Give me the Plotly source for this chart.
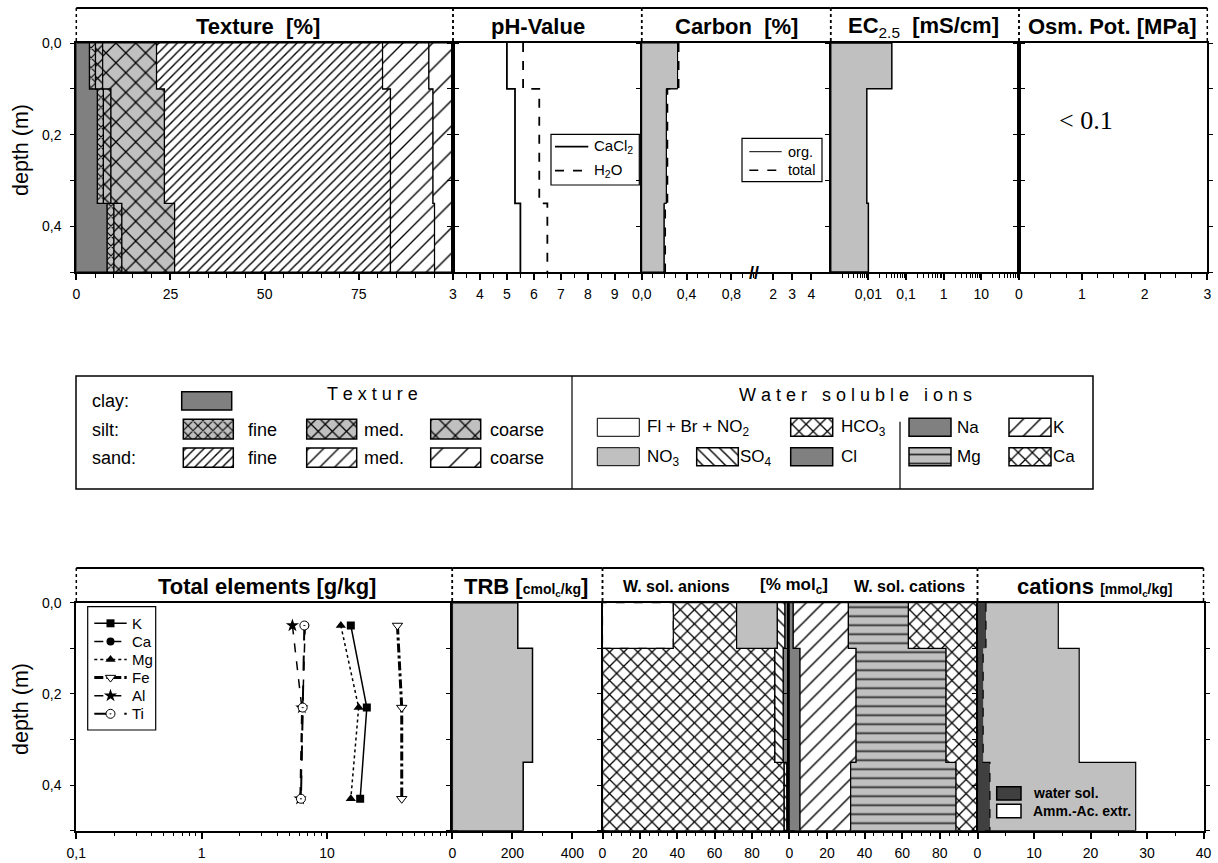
import plotly.graph_objects as go

W, H = 1218, 863
FONT = "Liberation Sans, Arial, Helvetica, sans-serif"
SERIF = "Liberation Serif, Times New Roman, serif"
GRAY = "#c0c0c0"
DGRAY = "#808080"
XDGRAY = "#404040"

# ---------------- profile data (three horizons) ----------------
depth_bounds = [0.0, 0.10, 0.35, 0.50]          # horizon limits [m]

# texture [%]
clay = [3.5, 5.6, 8.2]
silt_fine = [1.6, 1.6, 1.8]
silt_med = [1.9, 2.0, 2.1]
silt_coarse = [14.3, 14.2, 14.0]
sand_fine = [60.0, 60.0, 57.3]
sand_med = [12.3, 11.3, 11.7]
sand_coarse = [6.4, 5.3, 4.9]

# pH
ph_cacl2 = [5.0, 5.3, 5.5]
ph_h2o = [5.6, 6.2, 6.5]

# carbon [%]
carbon_org = [0.32, 0.22, 0.20]
carbon_total = [0.33, 0.23, 0.21]

# EC 2.5 [mS/cm] and osmotic potential [MPa]
ec25 = [0.042, 0.0091, 0.0100]
osm_pot = [0.01, 0.0, 0.0]

# total elements [g/kg]
elem_depth = [0.05, 0.23, 0.43]
elem_K = [15.5, 20.8, 18.4]
elem_Ca = [6.7, 6.4, 6.2]
elem_Mg = [12.9, 17.9, 15.5]
elem_Fe = [36.5, 39.5, 39.5]
elem_Al = [5.3, 6.3, 6.1]
elem_Ti = [6.6, 6.4, 6.2]

# TRB [cmolc/kg]
trb = [218, 267, 236]

# water soluble anions [% molc]
an_fbn = [37.9, 0.0, 0.0]
an_hco3 = [33.9, 92.3, 97.3]
an_no3 = [21.8, 0.0, 0.0]
an_so4 = [4.1, 4.5, 1.4]
an_cl = [2.3, 3.2, 1.3]

# water soluble cations [% molc]
cat_na = [2.1, 5.7, 5.7]
cat_k = [29.3, 29.8, 26.9]
cat_mg = [31.9, 47.8, 56.0]
cat_ca = [36.7, 16.7, 11.4]

# exchangeable cations [mmolc/kg]
cat_water = [1.5, 1.0, 2.2]
cat_ammac = [14.3, 18.0, 28.0]

# axis tick labels
tex_ticks = [0, 25, 50, 75]
tex_labels = ["0", "25", "50", "75"]
ph_ticks = [3, 4, 5, 6, 7, 8, 9]
ph_labels = ["3", "4", "5", "6", "7", "8", "9"]
c_lo_ticks = [0, 0.4, 0.8]
c_lo_labels = ["0,0", "0,4", "0,8"]
c_hi_ticks = [2, 3, 4]
c_hi_labels = ["2", "3", "4"]
ec_ticks = [0.01, 0.1, 1, 10]
ec_labels = ["0,01", "0,1", "1", "10"]
osm_ticks = [0, 1, 2, 3]
osm_labels = ["0", "1", "2", "3"]
el_ticks = [0.1, 1, 10]
el_labels = ["0,1", "1", "10"]
trb_ticks = [0, 200, 400]
trb_labels = ["0", "200", "400"]
pct_ticks = [0, 20, 40, 60, 80]
pct_labels = ["0", "20", "40", "60", "80"]
cex_ticks = [0, 10, 20, 30, 40]
cex_labels = ["0", "10", "20", "30", "40"]
depth_ticks = [0.0, 0.2, 0.4]
depth_labels = ["0,0", "0,2", "0,4"]


# ---------------- helpers ----------------
def px_x(p):
    return p / W


def px_y(p):
    return 1 - p / H


def ref(c, i):
    return c if i == 1 else f"{c}{i}"


def lay(c, i):
    return f"{c}axis" if i == 1 else f"{c}axis{i}"


def steps(vals):
    xs, ys = [], []
    for v, a, b in zip(vals, depth_bounds[:-1], depth_bounds[1:]):
        xs += [v, v]
        ys += [a, b]
    return xs, ys


def band(left, right):
    xr, yr = steps(right)
    xl, yl = steps(left)
    return xr + xl[::-1] + [xr[0]], yr + yl[::-1] + [yr[0]]


def pat(shape, size, bg="white", fg="black", sol=None):
    if sol is None:
        sol = round(min(0.3, (2.4 if shape == "x" else 1.4) / size), 3)
    return dict(shape=shape, size=size, solidity=sol, fgcolor=fg, bgcolor=bg, fillmode="replace")


STY = {
    "clay": dict(color=DGRAY),
    "silt_f": dict(color=GRAY, pattern=pat("x", 7, GRAY)),
    "silt_m": dict(color=GRAY, pattern=pat("x", 10, GRAY)),
    "silt_c": dict(color=GRAY, pattern=pat("x", 14, GRAY)),
    "sand_f": dict(color="white", pattern=pat("/", 6.5)),
    "sand_m": dict(color="white", pattern=pat("/", 10.5)),
    "sand_c": dict(color="white", pattern=pat("/", 18)),
    "fbn": dict(color="white", dash="dash"),
    "hco3": dict(color="white", pattern=pat("x", 10)),
    "no3": dict(color=GRAY),
    "so4": dict(color="white", pattern=pat("\\", 8)),
    "cl": dict(color=DGRAY),
    "na": dict(color=DGRAY),
    "k": dict(color="white", pattern=pat("/", 12)),
    "mg": dict(color=GRAY, pattern=pat("-", 9, GRAY, "#303030", 0.2)),
    "ca": dict(color="white", pattern=pat("x", 10)),
    "gray": dict(color=GRAY),
    "water": dict(color=XDGRAY, dash="dash"),
}

fig = go.Figure()


def add_band(i, left, right, sty, lw=1.2):
    xs, ys = band(left, right)
    tr = go.Scatter(x=xs, y=ys, xaxis=ref("x", i), yaxis=ref("y", i), mode="lines",
                    fill="toself", fillcolor=sty["color"],
                    line=dict(color="black", width=lw, dash=sty.get("dash", "solid")),
                    showlegend=False, hoverinfo="skip")
    if sty.get("pattern"):
        tr.update(fillpattern=sty["pattern"])
    fig.add_trace(tr)


def stacked(i, series, styles):
    left = [0.0] * len(series[0])
    for vals, key in zip(series, styles):
        right = [a + b for a, b in zip(left, vals)]
        add_band(i, left, right, STY[key])
        left = right


def swatch(x0, y0, x1, y1, key, lw=1.5):
    sty = STY[key]
    marker = dict(color=sty["color"], line=dict(color="black", width=lw))
    if sty.get("pattern"):
        marker["pattern"] = sty["pattern"]
    fig.add_trace(go.Bar(x=[x1 - x0], base=[x0], y=[(y0 + y1) / 2], width=[y1 - y0],
                         orientation="h", marker=marker, xaxis="x12", yaxis="y12",
                         showlegend=False, hoverinfo="skip"))


def key_line(x0, x1, yy, ln, mk=None):
    fig.add_trace(go.Scatter(x=[x0, x1], y=[yy, yy], xaxis="x12", yaxis="y12", mode="lines",
                             line=ln, showlegend=False, hoverinfo="skip"))
    if mk:
        fig.add_trace(go.Scatter(x=[(x0 + x1) / 2], y=[yy], xaxis="x12", yaxis="y12",
                                 mode="markers", marker=mk, showlegend=False, hoverinfo="skip"))


def text(xp, yp, s, size, anchor="center", family=FONT, angle=0):
    fig.add_annotation(x=px_x(xp), y=px_y(yp), xref="paper", yref="paper", text=s,
                       showarrow=False, xanchor=anchor, yanchor="middle",
                       textangle=angle, font=dict(family=family, size=size, color="black"))


def line(x0, y0, x1, y1, w=1.5, dash="solid"):
    fig.add_shape(type="line", xref="paper", yref="paper", x0=px_x(x0), y0=px_y(y0),
                  x1=px_x(x1), y1=px_y(y1), line=dict(color="black", width=w, dash=dash))


def box(x0, y0, x1, y1, w=1.2):
    fig.add_shape(type="rect", xref="paper", yref="paper", x0=px_x(x0), y0=px_y(y1),
                  x1=px_x(x1), y1=px_y(y0), line=dict(color="black", width=w))


# ---------------- panels ----------------
TOP_ROW = (43.0, 272.0)
BOT_ROW = (602.7, 830.7)
panels = {
    1: (76.3, 453.0, TOP_ROW),
    2: (453.0, 641.7, TOP_ROW),
    3: (641.7, 753.8, TOP_ROW),
    4: (753.8, 830.7, TOP_ROW),
    5: (830.7, 1019.0, TOP_ROW),
    6: (1019.0, 1207.3, TOP_ROW),
    7: (76.3, 452.3, BOT_ROW),
    8: (452.3, 602.5, BOT_ROW),
    9: (602.5, 789.3, BOT_ROW),
    10: (789.3, 977.5, BOT_ROW),
    11: (977.5, 1203.5, BOT_ROW),
}


def log_minor(e0, e1):
    return [m * 10 ** e for e in range(e0, e1) for m in range(2, 10)]


xspec = {
    1: dict(range=[0, 100], tickvals=tex_ticks, ticktext=tex_labels, minor=dict(dtick=5)),
    2: dict(range=[3, 10], tickvals=ph_ticks, ticktext=ph_labels, minor=dict(dtick=0.5)),
    3: dict(range=[0, 1.0], tickvals=c_lo_ticks, ticktext=c_lo_labels, minor=dict(dtick=0.1)),
    4: dict(range=[1, 5], tickvals=c_hi_ticks, ticktext=c_hi_labels),
    5: dict(type="log", range=[-3, 2], tickvals=ec_ticks, ticktext=ec_labels,
            minor=dict(tickvals=log_minor(-3, 2))),
    6: dict(range=[0, 3], tickvals=osm_ticks, ticktext=osm_labels, minor=dict(dtick=0.25)),
    7: dict(type="log", range=[-1, 2], tickvals=el_ticks, ticktext=el_labels,
            minor=dict(tickvals=log_minor(-1, 2))),
    8: dict(range=[0, 500], tickvals=trb_ticks, ticktext=trb_labels, minor=dict(dtick=100)),
    9: dict(range=[0, 100], tickvals=pct_ticks, ticktext=pct_labels, minor=dict(dtick=5)),
    10: dict(range=[0, 100], tickvals=pct_ticks, ticktext=pct_labels, minor=dict(dtick=5)),
    11: dict(range=[0, 40], tickvals=cex_ticks, ticktext=cex_labels, minor=dict(dtick=5)),
}

layout_axes = {}
tickfont = dict(family=FONT, size=14, color="black")
for i, (x0, x1, (r0, r1)) in panels.items():
    spec = dict(xspec[i])
    minor = spec.pop("minor", None)
    xa = dict(domain=[px_x(x0), px_x(x1)], anchor=ref("y", i), showline=True,
              linecolor="black", linewidth=2, mirror=True, ticks="outside", ticklen=6,
              tickwidth=1.5, tickcolor="black", showgrid=False, zeroline=False,
              tickfont=tickfont, tickmode="array", ticklabelstandoff=2, fixedrange=True,
              automargin=False)
    xa.update(spec)
    if minor:
        minor.update(ticks="outside", ticklen=3.5, tickwidth=1.2, tickcolor="black", showgrid=False)
        xa["minor"] = minor
    layout_axes[lay("x", i)] = xa

    ya = dict(domain=[px_y(r1), px_y(r0)], anchor=ref("x", i), range=[0.5, 0],
              showline=True, linecolor="black", linewidth=2, mirror="ticks",
              ticks="outside", ticklen=4, tickwidth=1.2, tickcolor="black",
              tickmode="array", tickvals=depth_ticks, ticktext=depth_labels,
              minor=dict(dtick=0.1, ticks="outside", ticklen=4, tickwidth=1.2,
                         tickcolor="black", showgrid=False),
              showticklabels=i in (1, 7), tickfont=tickfont, ticklabelstandoff=6,
              showgrid=False, zeroline=False, fixedrange=True, automargin=False)
    if i == 3:
        ya.update(mirror=False, side="left")
    if i == 4:
        ya.update(mirror=False, side="right")
    layout_axes[lay("y", i)] = ya

# full-figure key layer for legend keys
layout_axes["xaxis12"] = dict(domain=[0, 1], range=[0, W], visible=False, fixedrange=True,
                              anchor="y12", automargin=False)
layout_axes["yaxis12"] = dict(domain=[0, 1], range=[H, 0], visible=False, fixedrange=True,
                              anchor="x12", automargin=False)

# ---------------- traces ----------------
# texture
stacked(1, [clay, silt_fine, silt_med, silt_coarse, sand_fine, sand_med, sand_coarse],
        ["clay", "silt_f", "silt_m", "silt_c", "sand_f", "sand_m", "sand_c"])

# pH
ph_series = [(ph_cacl2, "CaCl<sub>2</sub>", dict(color="black", width=1.8, dash="solid")),
             (ph_h2o, "H<sub>2</sub>O", dict(color="black", width=1.8, dash="dash"))]
for vals, name, ln in ph_series:
    xs, ys = steps(vals)
    fig.add_trace(go.Scatter(x=xs, y=ys, xaxis="x2", yaxis="y2", mode="lines", name=name,
                             line=ln, showlegend=False, hoverinfo="skip"))

# carbon (linear part below the axis break)
add_band(3, [0.0] * 3, carbon_org, STY["gray"], lw=1.0)
c_series = [(carbon_org, "org.", dict(color="black", width=1.0, dash="solid")),
            (carbon_total, "total", dict(color="black", width=1.6, dash="dash"))]
for vals, name, ln in c_series:
    xs, ys = steps(vals)
    fig.add_trace(go.Scatter(x=xs, y=ys, xaxis="x3", yaxis="y3", mode="lines", name=name,
                             line=ln, showlegend=False, hoverinfo="skip"))
# carbon upper range beyond the break holds no values
fig.add_trace(go.Scatter(x=[None], y=[None], xaxis="x4", yaxis="y4", mode="lines",
                         showlegend=False, hoverinfo="skip"))

# EC
add_band(5, [10 ** xspec[5]["range"][0]] * 3, ec25, STY["gray"], lw=1.5)

# osmotic potential
xs, ys = steps(osm_pot)
fig.add_trace(go.Scatter(x=xs, y=ys, xaxis="x6", yaxis="y6", mode="lines",
                         line=dict(color="black", width=2.0), showlegend=False, hoverinfo="skip"))

# total elements
elements = [
    ("K", elem_K, dict(color="black", width=1.5, dash="solid"), dict(symbol="square", size=8, color="black")),
    ("Ca", elem_Ca, dict(color="black", width=1.5, dash="dash"), dict(symbol="circle", size=8, color="black")),
    ("Mg", elem_Mg, dict(color="black", width=1.5, dash="dot"), dict(symbol="triangle-up", size=9, color="black")),
    ("Fe", elem_Fe, dict(color="black", width=3, dash="dashdot"),
     dict(symbol="triangle-down", size=9, color="white", line=dict(color="black", width=1))),
    ("Al", elem_Al, dict(color="black", width=1.5, dash="dash"), dict(symbol="star", size=10, color="black")),
    ("Ti", elem_Ti, dict(color="black", width=2, dash="longdash"),
     dict(symbol="circle-dot", size=9, color="white", line=dict(color="black", width=1))),
]
for name, vals, ln, mk in elements:
    fig.add_trace(go.Scatter(x=vals, y=elem_depth, xaxis="x7", yaxis="y7", mode="lines+markers",
                             name=name, line=ln, marker=mk, showlegend=False, hoverinfo="skip"))

# TRB
add_band(8, [0.0] * 3, trb, STY["gray"], lw=1.5)

# water soluble anions / cations
stacked(9, [an_fbn, an_hco3, an_no3, an_so4, an_cl], ["fbn", "hco3", "no3", "so4", "cl"])
stacked(10, [cat_na, cat_k, cat_mg, cat_ca], ["na", "k", "mg", "ca"])

# exchangeable cations
add_band(11, [0.0] * 3, cat_ammac, STY["gray"], lw=1.2)
add_band(11, [0.0] * 3, cat_water, STY["water"], lw=1.2)

# ---------------- legend keys ----------------
# total elements
box(87.7, 606.7, 155.7, 730.0)
for k, (name, vals, ln, mk) in enumerate(elements):
    yy = 623.3 + k * 18.1
    key_line(94.3, 126.7, yy, ln, mk)
    text(130.0, yy, name, 15, anchor="left")

# pH
box(551.0, 134.3, 639.3, 185.0)
for k, (vals, name, ln) in enumerate(ph_series):
    yy = 146.7 + k * 24.0
    key_line(555.0, 588.3, yy, ln)
    text(592.0, yy, name, 15, anchor="left")

# carbon
box(742.0, 138.3, 822.0, 181.7)
for k, (vals, name, ln) in enumerate(c_series):
    yy = 151.7 + k * 18.5
    key_line(749.3, 781.7, yy, ln)
    text(785.5, yy, name, 14.5, anchor="left")

# texture / ions swatches
swatch(181.7, 391.7, 231.7, 410.0, "clay")
for x0, key in [(183.3, "silt_f"), (306.7, "silt_m"), (430.7, "silt_c")]:
    swatch(x0, 419.3, x0 + 50, 439.0, key)
for x0, key in [(183.3, "sand_f"), (306.7, "sand_m"), (430.7, "sand_c")]:
    swatch(x0, 448.0, x0 + 50, 467.3, key)
swatch(597.3, 418.3, 639.3, 436.3, "fbn", lw=1.0)
swatch(790.7, 418.3, 832.7, 436.3, "hco3")
swatch(597.3, 447.7, 639.3, 465.7, "no3", lw=1.0)
swatch(696.7, 447.7, 738.3, 465.7, "so4")
swatch(790.7, 447.7, 832.7, 465.7, "cl")
swatch(909.0, 418.3, 951.0, 436.3, "na")
swatch(1009.0, 418.3, 1051.0, 436.3, "k")
swatch(909.0, 447.7, 951.0, 465.7, "mg")
swatch(1009.0, 447.7, 1051.0, 465.7, "ca")
fig.add_trace(go.Bar(x=[24.3], base=[996.7], y=[793.3], width=[13.3], orientation="h",
                     marker=dict(color=XDGRAY, line=dict(color="black", width=1.5)),
                     xaxis="x12", yaxis="y12", showlegend=False, hoverinfo="skip"))
fig.add_trace(go.Bar(x=[24.3], base=[996.7], y=[811.0], width=[13.3], orientation="h",
                     marker=dict(color="white", line=dict(color="black", width=1.5)),
                     xaxis="x12", yaxis="y12", showlegend=False, hoverinfo="skip"))

# ---------------- headers ----------------
headers = [
    (76.3, 453.0, 8.0, 43.0, "<b>Texture  [%]</b>", 257.7),
    (453.0, 641.7, 8.0, 43.0, "<b>pH-Value</b>", 538.0),
    (641.7, 830.7, 8.0, 43.0, "<b>Carbon  [%]</b>", 736.5),
    (830.7, 1019.0, 8.0, 43.0, "<b>EC</b><sub>2.5</sub><b>  [mS/cm]</b>", 923.0),
    (1019.0, 1207.3, 8.0, 43.0, "<b>Osm. Pot. [MPa]</b>", 1112.0),
    (76.3, 452.3, 568.0, 602.7, "<b>Total elements [g/kg]</b>", 267.0),
    (452.3, 602.5, 568.0, 602.7,
     "<b>TRB [<span style='font-size:14px'>cmol<sub>c</sub>/kg</span>]</b>", 526.0),
    (602.5, 977.5, 568.0, 602.7, "", 0),
    (977.5, 1203.5, 568.0, 602.7,
     "<b>cations <span style='font-size:14px'>[mmol<sub>c</sub>/kg]</span></b>", 1094.0),
]
for x0, x1, t, b, label, cx in headers:
    line(x0, t, x1, t, w=2)
    line(x0, t, x0, b, w=1.5, dash="dot")
    line(x1, t, x1, b, w=1.5, dash="dot")
    if label:
        text(cx, (t + b) / 2 + 1, label, 22)
text(676.0, 586.0, "<b>W. sol. anions</b>", 16)
text(794.0, 586.0, "<b>[% mol<sub>c</sub>]</b>", 17)
text(909.5, 586.0, "<b>W. sol. cations</b>", 16)

# axis titles and notes
text(21.0, 150.0, "depth (m)", 21.5, angle=-90)
text(21.0, 709.0, "depth (m)", 21.5, angle=-90)
text(1086.0, 120.0, "&lt; 0.1", 26, family=SERIF)
text(753.5, 273.0, "<b>//</b>", 18)

# ---------------- central key box ----------------
box(76.0, 376.0, 1093.0, 489.0, w=1.5)
line(572.0, 376.0, 572.0, 489.0, w=1.2)
line(900.0, 421.7, 900.0, 489.0, w=1.2)

text(90.0, 401.0, "clay:", 18, anchor="left")
text(90.0, 430.0, "silt:", 18, anchor="left")
text(90.0, 458.0, "sand:", 18, anchor="left")
for yy in (430.0, 458.0):
    text(246.0, yy, "fine", 18, anchor="left")
    text(362.0, yy, "med.", 18, anchor="left")
    text(488.0, yy, "coarse", 18, anchor="left")
text(372.0, 394.5, "T e x t u r e", 18)
text(855.0, 395.0, "W a t e r   s o l u b l e   i o n s", 18)
text(645.0, 428.0, "Fl + Br + NO<sub>2</sub>", 17, anchor="left")
text(839.0, 428.0, "HCO<sub>3</sub>", 17, anchor="left")
text(645.0, 458.0, "NO<sub>3</sub>", 17, anchor="left")
text(738.0, 458.0, "SO<sub>4</sub>", 17, anchor="left")
text(839.0, 456.7, "Cl", 17, anchor="left")
text(955.0, 427.3, "Na", 17, anchor="left")
text(1051.0, 427.3, "K", 17, anchor="left")
text(955.0, 456.7, "Mg", 17, anchor="left")
text(1051.0, 456.7, "Ca", 17, anchor="left")
text(1031.0, 793.3, "<b>water sol.</b>", 14, anchor="left")
text(1031.0, 811.0, "<b>Amm.-Ac. extr.</b>", 14, anchor="left")

# ---------------- layout ----------------
fig.update_layout(
    width=W, height=H, autosize=False,
    margin=dict(l=0, r=0, t=0, b=0, pad=0, autoexpand=False),
    paper_bgcolor="white", plot_bgcolor="rgba(0,0,0,0)",
    barmode="overlay", showlegend=False,
    font=dict(family=FONT, color="black"),
    **layout_axes,
)

fig.write_html("out.html")
